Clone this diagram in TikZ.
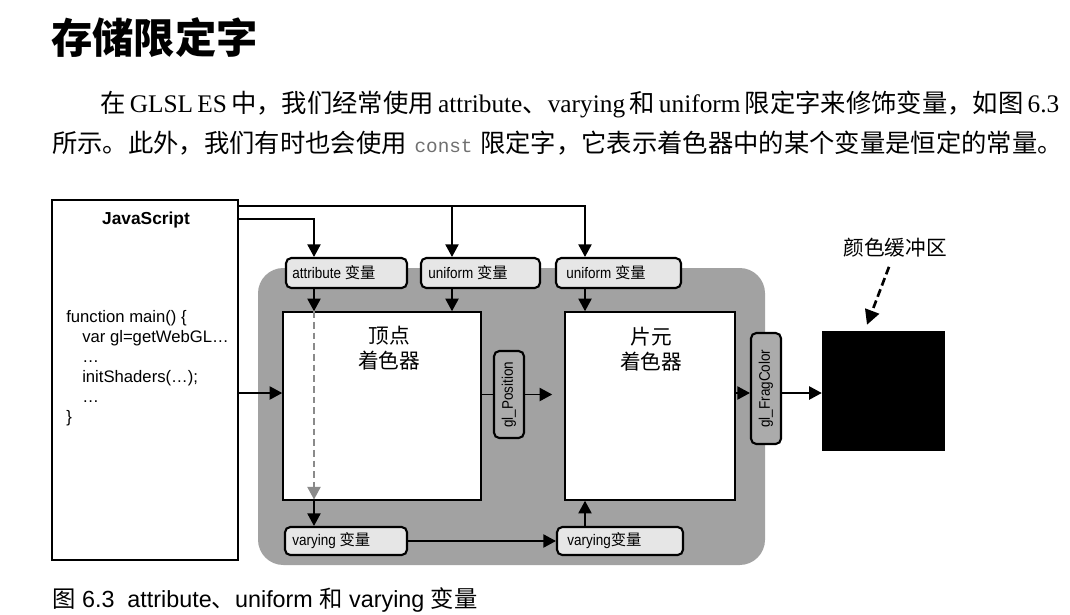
\documentclass[tikz,border=0pt]{standalone}
\usepackage{fontspec}
\setmainfont{Liberation Serif}
\setsansfont{Liberation Sans}
\setmonofont{Liberation Mono}
\newfontfamily\cjk{Noto Sans CJK SC}
\newfontfamily\narrowsans{Liberation Sans}[FakeStretch=0.88]
\usetikzlibrary{arrows.meta,calc}
\newcommand\zh[1]{{\cjk #1}}
\definecolor{panelgray}{HTML}{A2A2A2}
\definecolor{boxgray}{HTML}{E6E6E6}
\definecolor{glgray}{HTML}{ABABAB}
\definecolor{dashgray}{HTML}{8A8A8A}
\definecolor{codegray}{HTML}{707070}
\begin{document}
\begin{tikzpicture}[x=0.75pt,y=-0.75pt,
  conn/.style={line width=1.1pt,-{Triangle[length=9.5pt,width=10pt]}},
  plain/.style={line width=1.1pt},
  dconn/.style={line width=2pt,dash pattern=on 6pt off 3pt,-{Triangle[length=11pt,width=11pt]}},
  gconn/.style={line width=1.1pt,draw=dashgray,dash pattern=on 5pt off 3pt,-{Triangle[length=9.5pt,width=10pt,fill=dashgray]}},
  varbox/.style={draw,line width=1.6pt,rounded corners=4pt,fill=boxgray,inner sep=0pt},
  glbox/.style={draw,line width=1.6pt,rounded corners=4pt,fill=glgray,inner sep=0pt},
  shader/.style={draw,line width=1.2pt,fill=white,inner sep=0pt},
  boxtext/.style={anchor=west,inner sep=0pt,font=\narrowsans\fontsize{11.5}{12}\selectfont},
]
\useasboundingbox (0,0) rectangle (1070,614);
\fill[white] (0,0) rectangle (1070,614);

% title and paragraph
\node[anchor=west,inner sep=0pt,font=\cjk\bfseries\fontsize{31}{31}\selectfont] (title) at (51,38) {存储限定字};
\node[anchor=base west,inner sep=0pt,font=\fontsize{19}{19}\selectfont] (line1) at (100,112)
  {\makebox[716.25pt][s]{\zh{在} GLSL ES \zh{中，我们经常使用} attribute\zh{、}varying \zh{和} uniform \zh{限定字来修饰变量，如图} 6.3}};
\node[anchor=base west,inner sep=0pt,font=\fontsize{19}{19}\selectfont] (line2) at (52,152)
  {\makebox[758pt][s]{\zh{所示。此外，我们有时也会使用} {\ttfamily\color{codegray}\fontsize{14.5}{14.5}\selectfont const} \zh{限定字，它表示着色器中的某个变量是恒定的常量。}}};

% JavaScript box
\node[draw,line width=1.2pt,minimum width=139.5pt,minimum height=270pt,inner sep=0pt] (js) at (145,380) {};
\node[inner sep=0pt,font=\sffamily\bfseries\fontsize{13}{14}\selectfont] (jstitle) at (146,220) {JavaScript};
\node[anchor=north west,inner sep=0pt,align=left,font=\sffamily\fontsize{12.5}{15}\selectfont] (code) at (66,310)
  {function main() \{\\
   \hspace*{12pt}var gl=getWebGL\ldots\\
   \hspace*{12pt}\ldots\\
   \hspace*{12pt}initShaders(\ldots);\\
   \hspace*{12pt}\ldots\\
   \}};

% gray panel
\fill[panelgray,rounded corners=19pt] (258,268) rectangle (765,565);

% shaders
\node[shader,minimum width=148.5pt,minimum height=141pt] (vert) at (382,406) {};
\node[shader,minimum width=127.5pt,minimum height=141pt] (frag) at (650,406) {};
\node[align=center,inner sep=0pt,font=\cjk\fontsize{15.5}{18.75}\selectfont] (verttext) at (389,348) {顶点\\着色器};
\node[align=center,inner sep=0pt,font=\cjk\fontsize{15.5}{18.75}\selectfont] (fragtext) at (651,349) {片元\\着色器};

% variable boxes
\node[varbox,minimum width=90.75pt,minimum height=22.5pt] (attr) at (346.5,273) {};
\node[boxtext] (attrt) at (292,273) {attribute \zh{变量}};
\node[varbox,minimum width=89.25pt,minimum height=22.5pt] (uni1) at (480.5,273) {};
\node[boxtext] (uni1t) at (428,273) {uniform \zh{变量}};
\node[varbox,minimum width=93.75pt,minimum height=22.5pt] (uni2) at (618.5,273) {};
\node[boxtext] (uni2t) at (566,273) {uniform \zh{变量}};
\node[varbox,minimum width=91.5pt,minimum height=21pt] (var1) at (346,541) {};
\node[boxtext] (var1t) at (292,541) {varying \zh{变量}};
\node[varbox,minimum width=94.5pt,minimum height=21pt] (var2) at (620,541) {};
\node[boxtext] (var2t) at (567,541) {varying\zh{变量}};

% gl boxes
\node[glbox,minimum width=22.5pt,minimum height=65.25pt] (glpos) at (509,394.5) {};
\node[rotate=90,inner sep=0pt,font=\narrowsans\fontsize{11.5}{12}\selectfont] (glpost) at (509,394.5) {gl\_Position};
\node[glbox,minimum width=22.5pt,minimum height=83.25pt] (glfrag) at (766,388.5) {};
\node[rotate=90,inner sep=0pt,font=\narrowsans\fontsize{11.5}{12}\selectfont] (glfragt) at (766,388.5) {gl\_FragColor};

% colour buffer
\node[fill=black,minimum width=92.25pt,minimum height=90pt,inner sep=0pt] (buf) at (883.5,391) {};
\node[inner sep=0pt,font=\cjk\fontsize{15.5}{18}\selectfont] (buflabel) at (895,248) {颜色缓冲区};

% reference x positions
\coordinate (xa) at (314,0);
\coordinate (xu1) at (452,0);
\coordinate (xu2) at (585,0);

% connectors from JavaScript
\draw[conn] (js.east |- 0,206) -| (xu2 |- uni2.north);
\draw[conn] (xu1 |- 0,206) -- (xu1 |- uni1.north);
\draw[conn] (js.east |- 0,219) -| (xa |- attr.north);
\draw[conn] (js.east |- 0,393) -- (vert.west |- 0,393);

% into shaders
\draw[conn] (xa |- attr.south) -- (xa |- vert.north);
\draw[conn] (xu1 |- uni1.south) -- (xu1 |- vert.north);
\draw[conn] (xu2 |- uni2.south) -- (xu2 |- frag.north);
\draw[gconn] (xa |- vert.north) -- ([yshift=1pt]xa |- vert.south);
\draw[conn] (xa |- vert.south) -- (xa |- var1.north);
\draw[conn] (var1.east) -- (var2.west);
\draw[conn] (xu2 |- var2.north) -- (xu2 |- frag.south);

% positions and colours
\draw[plain] (vert.east |- glpos.west) -- (glpos.west);
\draw[conn,shorten >=9pt] (glpos.east) -- (frag.west |- glpos.east);
\draw[conn] (frag.east |- 0,393) -- (glfrag.west |- 0,393);
\draw[conn] (glfrag.east |- 0,393) -- (buf.west |- 0,393);
\draw[dconn] ($(buflabel.south)+(-6,9)$) -- ($(buf.north)+(-16.5,-6)$);

% caption
\node[anchor=base west,inner sep=0pt,font=\sffamily\fontsize{17.5}{17.5}\selectfont] (caption) at (52,607)
  {\zh{图} 6.3\ \ attribute\zh{、}uniform \zh{和} varying \zh{变量}};
\end{tikzpicture}
\end{document}
